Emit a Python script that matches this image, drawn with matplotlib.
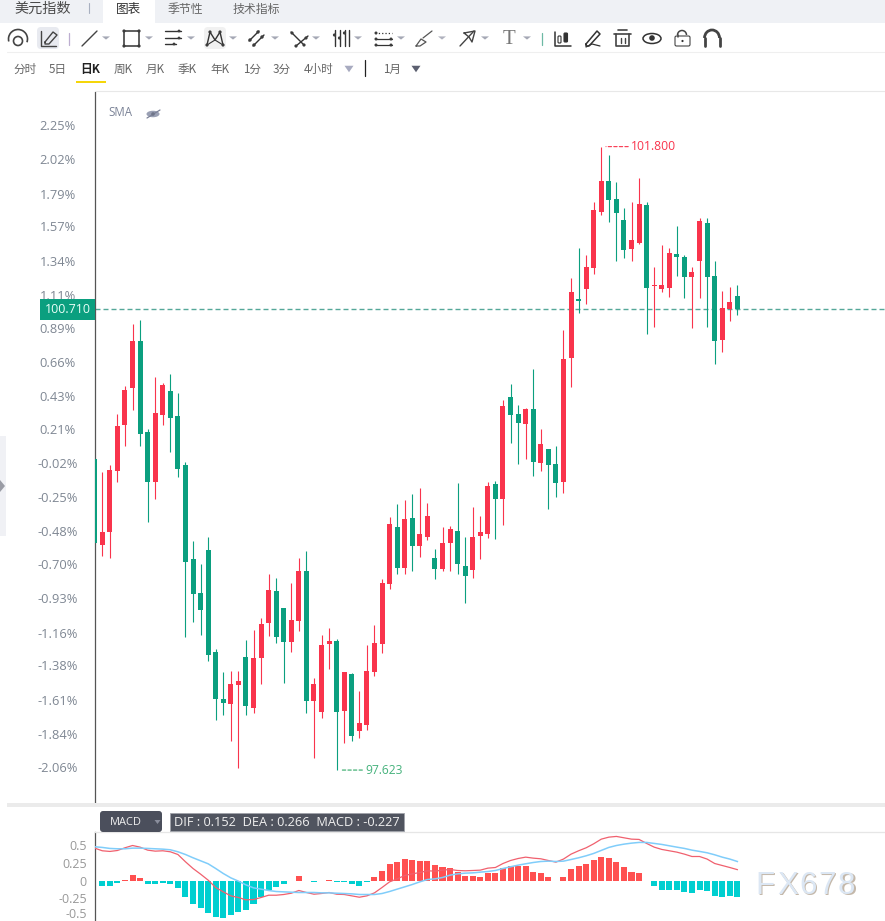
import numpy as np
import matplotlib
matplotlib.use('Agg')
import matplotlib.pyplot as plt
from matplotlib.patches import Rectangle, FancyBboxPatch, Circle, Arc, Polygon, Ellipse

# ---------- data ----------
opens = [99.707,99.130,99.218,99.626,99.935,100.182,100.497,99.888,99.553,100.002,100.162,99.995,99.666,99.037,98.809,99.097,98.414,98.099,98.065,98.193,98.380,98.038,98.373,98.608,98.822,98.708,98.481,98.621,98.956,98.085,98.012,98.467,98.487,98.018,98.266,97.884,97.925,98.280,98.467,98.869,99.251,98.976,99.311,99.124,99.184,99.043,98.970,99.144,99.224,98.990,98.963,99.191,99.204,99.539,99.439,100.122,100.008,99.941,100.042,99.680,99.774,99.673,99.553,100.383,100.779,100.846,100.986,101.362,101.569,101.449,101.308,101.114,101.154,101.409,100.866,100.846,100.852,101.080,101.060,100.926,101.033,101.288,100.933,100.504,100.712,100.799]
highs = [99.707,99.620,99.666,100.008,100.196,100.611,100.638,99.908,100.256,100.216,100.276,100.149,99.687,99.157,99.003,99.184,98.434,98.280,98.286,98.286,98.494,98.561,98.641,98.936,98.909,98.708,98.876,99.043,99.090,98.239,98.527,98.574,98.501,98.280,98.273,98.152,98.461,98.595,98.903,99.318,99.405,99.432,99.472,99.512,99.412,99.104,99.251,99.258,99.546,99.184,99.385,99.325,99.553,99.559,100.102,100.209,100.069,100.049,100.310,99.908,99.774,99.794,100.571,100.919,101.120,101.074,101.429,101.800,101.744,101.563,101.388,101.429,101.589,101.429,100.993,101.141,101.120,101.268,101.074,100.993,101.321,101.321,101.033,100.832,100.859,100.872]
lows = [99.144,99.057,99.043,99.553,99.794,100.035,99.794,99.285,99.439,99.935,99.754,99.586,98.514,98.615,98.527,98.353,97.958,97.992,97.817,97.636,97.992,98.005,98.199,98.521,98.474,98.206,98.414,98.554,98.005,97.703,97.971,98.300,97.623,97.804,97.817,97.837,97.891,98.253,98.407,98.836,98.936,98.936,98.956,99.050,99.164,98.903,98.956,98.956,98.936,98.742,98.909,99.037,99.177,99.171,99.265,99.814,99.673,99.707,99.593,99.626,99.372,99.452,99.479,100.189,100.685,100.745,100.946,101.342,101.295,101.033,101.053,101.033,101.147,100.544,100.591,100.826,100.792,100.933,100.785,100.584,100.785,100.591,100.343,100.424,100.631,100.672]
closes = [99.144,99.218,99.633,99.928,100.169,100.497,99.874,99.553,100.015,100.203,99.981,99.640,99.017,98.802,98.695,98.394,98.099,98.072,98.199,98.219,98.052,98.373,98.601,98.829,98.514,98.481,98.628,98.956,98.085,98.199,98.461,98.487,98.012,98.280,97.851,97.938,98.286,98.474,98.876,99.271,98.976,99.305,99.124,99.204,99.325,98.970,99.144,99.238,99.003,98.923,99.184,99.218,99.526,99.439,100.062,100.002,99.948,100.042,99.687,99.807,99.666,99.546,100.377,100.826,100.765,100.993,101.375,101.569,101.442,101.355,101.107,101.174,101.415,100.852,100.872,100.872,101.087,101.060,100.926,100.960,101.301,100.926,100.497,100.718,100.759,100.710]
pct_ticks = [2.25,2.02,1.79,1.57,1.34,1.11,0.89,0.66,0.43,0.21,-0.02,-0.25,-0.48,-0.70,-0.93,-1.16,-1.38,-1.61,-1.84,-2.06]
base_price = 99.70
last_price = 100.710
high_price = 101.800
low_price = 97.623

macd_hist = [-0.01,-0.08,-0.075,-0.035,0.012,0.075,0.03,-0.05,-0.05,-0.03,-0.05,-0.107,-0.234,-0.327,-0.388,-0.449,-0.509,-0.528,-0.486,-0.444,-0.407,-0.322,-0.224,-0.135,-0.084,-0.047,-0.01,0.06,-0.007,-0.02,-0.005,0.012,-0.02,-0.015,-0.055,-0.07,-0.015,0.045,0.135,0.229,0.257,0.3,0.285,0.27,0.27,0.215,0.187,0.173,0.117,0.07,0.07,0.056,0.1,0.1,0.173,0.2,0.2,0.2,0.126,0.1,0.047,-0.005,0.056,0.159,0.2,0.229,0.285,0.327,0.313,0.257,0.187,0.117,0.1,-0.007,-0.08,-0.126,-0.126,-0.135,-0.159,-0.173,-0.126,-0.15,-0.22,-0.234,-0.22,-0.227]
dif = [.453,.416,.407,.42,.458,.49,.467,.425,.411,.416,.402,.364,.262,.168,.089,.005,-.098,-.159,-.215,-.238,-.271,-.266,-.238,-.206,-.206,-.196,-.178,-.14,-.168,-.192,-.182,-.168,-.192,-.196,-.215,-.234,-.215,-.173,-.098,-.019,.023,.07,.093,.112,.136,.131,.145,.154,.14,.136,.14,.145,.173,.182,.238,.28,.308,.327,.313,.304,.28,.257,.3,.369,.416,.458,.514,.579,.607,.617,.598,.579,.575,.519,.467,.435,.416,.397,.369,.336,.336,.3,.238,.21,.182,.152]
dea = [.472,.463,.449,.444,.444,.453,.453,.449,.444,.439,.43,.402,.364,.318,.276,.234,.168,.098,.037,-.009,-.061,-.103,-.121,-.14,-.154,-.159,-.164,-.168,-.168,-.168,-.173,-.173,-.178,-.182,-.187,-.196,-.196,-.196,-.182,-.154,-.121,-.089,-.056,-.019,.014,.023,.042,.075,.093,.103,.107,.117,.126,.14,.168,.192,.215,.234,.252,.266,.271,.266,.271,.294,.318,.346,.379,.421,.463,.49,.509,.523,.533,.533,.519,.505,.486,.467,.449,.425,.407,.388,.36,.327,.3,.266]
macd_ticks = [0.5,0.25,0,-0.25,-0.5]
macd_tick_labels = ['0.5','0.25','0','-0.25','-0.5']
periods = ['分时','5日','日K','周K','月K','季K','年K','1分','3分','4小时']

# ---------- styles ----------
RED, GREEN = '#f9344c', '#0b9f7f'
HRED, HCYAN = '#ff5050', '#00cfd0'
CJK = ['Noto Sans CJK SC', 'DejaVu Sans']
W, H = 885, 921
fig = plt.figure(figsize=(W/100, H/100), dpi=100, facecolor='white')
def axbox(x0, y0, x1, y1):
    return [x0/W, 1-y1/H, (x1-x0)/W, (y1-y0)/H]

# ---------- main chart ----------
ax = fig.add_axes(axbox(94.5, 92, 885, 802))
idx = np.arange(len(opens))
O, Hi, Lo, C = map(np.array, (opens, highs, lows, closes))
up = C >= O
cols = np.where(up, RED, GREEN)
wicks = ax.vlines(idx, Lo, Hi, colors=cols, linewidth=0.8, zorder=2)
wicks.set_snap(True)
ax.bar(idx, np.maximum(np.abs(C-O), 0.006), bottom=np.minimum(O, C), width=0.66, color=cols, linewidth=0, zorder=3)
ax.set_xlim(-0.032, 104.53)
ax.set_ylim(97.409, 102.166)
ax.axhline(last_price, color='#55a899', lw=1.0, ls=(0, (3.6, 2.16)), zorder=1)
for s in ('top', 'right', 'bottom'):
    ax.spines[s].set_visible(False)
ax.spines['left'].set_color('#555555')
ax.spines['left'].set_linewidth(0.9)
ax.set_xticks([])
ax.set_yticks([base_price*(1+p/100) for p in pct_ticks])
ax.set_yticklabels(['%.2f%%' % p for p in pct_ticks], family='Open Sans', fontsize=9.3, color='#7f8793', ha='center')
ax.tick_params(axis='y', length=0, pad=26.6)
hi_i = int(np.argmax(Hi)); lo_i = int(np.argmin(Lo))
ax.annotate('%.3f' % high_price, xy=(hi_i, high_price), xytext=(21.4, 0), textcoords='offset points',
            va='center', ha='left', family='Open Sans', fontsize=8.7, color=RED,
            arrowprops=dict(arrowstyle='-', color=RED, lw=0.8, ls=(0, (3, 2)), shrinkA=0, shrinkB=3.4, relpos=(0, 0.5)))
ax.annotate('%.3f' % low_price, xy=(lo_i, low_price), xytext=(20.5, 0), textcoords='offset points',
            va='center', ha='left', family='Open Sans', fontsize=8.7, color='#45b27c',
            arrowprops=dict(arrowstyle='-', color='#2fa866', lw=0.8, ls=(0, (3, 2)), shrinkA=0, shrinkB=3.4, relpos=(0, 0.5)))

# ---------- MACD panel ----------
ax2 = fig.add_axes(axbox(94.5, 832, 885, 921))
h = np.array(macd_hist)
ax2.bar(idx, h, width=0.8, color=np.where(h >= 0, HRED, HCYAN), linewidth=0, zorder=2)
ax2.plot(idx, dif, color='#f0606e', lw=0.9, zorder=3)
ax2.plot(idx, dea, color='#80cdfa', lw=1.1, zorder=3)
ax2.set_xlim(-0.032, 104.53)
ax2.set_ylim(-0.567, 0.679)
for s in ('right', 'bottom'):
    ax2.spines[s].set_visible(False)
ax2.spines['top'].set_color('#e6e6e6')
ax2.spines['top'].set_linewidth(0.9)
ax2.spines['left'].set_color('#555555')
ax2.spines['left'].set_linewidth(0.9)
ax2.set_xticks([])
ax2.set_yticks(macd_ticks)
ax2.set_yticklabels(macd_tick_labels[:-1] + [''], family='Open Sans', fontsize=8.9, color='#989898')
ax2.tick_params(axis='y', length=0, pad=5.6)
# the lowest label sits against the picture's edge, so it is lifted a little from its tick
ax2.annotate(macd_tick_labels[-1], xy=(0, macd_ticks[-1]), xycoords=ax2.get_yaxis_transform(),
             xytext=(-5.6, -1.2), textcoords='offset points', ha='right', va='baseline',
             family='Open Sans', fontsize=8.9, color='#989898', annotation_clip=False)

# ---------- interface overlay, in pixels ----------
ui = fig.add_axes([0, 0, 1, 1], zorder=5)
ui.set_xlim(0, W); ui.set_ylim(H, 0); ui.axis('off'); ui.patch.set_alpha(0)
def rect(x0, y0, x1, y1, c, z=1):
    ui.add_patch(Rectangle((x0, y0), x1-x0, y1-y0, fc=c, ec='none', zorder=z))
def rrect(x0, y0, x1, y1, c, r=3, ec='none', z=1):
    ui.add_patch(FancyBboxPatch((x0+r, y0+r), x1-x0-2*r, y1-y0-2*r, boxstyle='round,pad=%g,rounding_size=%g' % (r, r),
                                fc=c, ec=ec, lw=0.8, zorder=z))
def L(pts, c='#3c3c3c', lw=1.0, z=3, **k):
    xs, ys = zip(*pts)
    ui.plot(xs, ys, color=c, lw=lw, zorder=z, solid_capstyle='round', **k)
def dot(x, y, r=1.8, c='#3c3c3c'):
    ui.add_patch(Circle((x, y), r, fc=c, ec='none', zorder=4))
def tri(x, y=38, c='#a5a8b5', w=4, h=3.2):
    ui.add_patch(Polygon([(x-w, y-h/2), (x+w, y-h/2), (x, y+h/2)], fc=c, ec='none', zorder=3))
def T(x, y, s, size=8.6, c='#555555', ha='left', fam=CJK, **k):
    ui.text(x, y, s, fontsize=size, color=c, ha=ha, va='center', family=fam, zorder=6, **k)

# tab row
rect(0, 0, W, 23, '#eff1f5')
rect(103, 0, 155, 23, 'white')
T(14, 9, '美元指数', 10.2, '#4a4a4a')
L([(88.5, 3), (88.5, 13)], '#a8b0c0', 0.8)
T(116, 9, '图表', 9.1, '#333333')
T(168, 9, '季节性', 8.6, '#666666')
T(233, 9, '技术指标', 8.6, '#666666')
# separators
L([(7, 52.5), (W, 52.5)], '#efefef', 0.8, z=1)
L([(95, 91.5), (W, 91.5)], '#e8e8e8', 0.8, z=1)
rect(7, 803, W, 807, '#ebebeb')

# toolbar icons
ui.add_patch(Arc((18, 39), 19, 19, theta1=165, theta2=20, ec='#444444', lw=1.2, zorder=3))
ui.add_patch(Circle((18, 41), 4.5, fc='none', ec='#444444', lw=1.2, zorder=3))
rrect(37, 27, 59, 49, '#e8eaf0', 4)
L([(41, 31), (41, 46), (56, 46)], '#444444', 1.0)
L([(45, 42), (53, 32), (57, 35), (49, 44), (45, 44), (45, 42)], '#444444', 1.0)
L([(68.5, 33), (68.5, 45)], '#bdaed0', 0.9)
L([(82, 46), (97, 31)], '#444444', 1.0); tri(106)
L([(124, 31), (139, 31), (139, 46), (124, 46), (124, 31)], '#333333', 1.1)
for p in [(124, 31), (139, 31), (139, 46), (124, 46)]: dot(*p, 1.6)
tri(149)
for yy, x1 in [(31, 181), (38, 181), (44, 176)]:
    L([(165, yy), (x1, yy)], '#333333', 1.0); dot(x1-2, yy, 1.4)
tri(191)
rrect(204, 27, 226, 49, '#f1f1f1', 4)
L([(207, 45), (210, 32), (215, 40), (220, 32), (223, 45)], '#333333', 1.0)
L([(207, 45), (215, 40), (223, 45)], '#333333', 0.8)
for p in [(207, 45), (210, 32), (220, 32), (223, 45)]: dot(*p, 1.6)
tri(233)
L([(249, 41), (259, 31)], '#333333', 1.0); L([(253, 46), (264, 35)], '#333333', 1.0)
for p in [(250, 40), (258, 32), (254, 45), (262, 37)]: dot(*p, 1.7)
tri(275)
L([(291, 32), (304, 45)], '#333333', 1.0); L([(308, 36), (296, 46)], '#333333', 1.0)
for p in [(292, 33), (304, 45), (296, 46), (306, 38)]: dot(*p, 1.6)
tri(316)
for xx, d in [(334.5, 35), (339.5, 38), (344.5, 33), (348.5, None)]:
    L([(xx, 30), (xx, 46)], '#333333', 1.0)
    if d: dot(xx, d, 1.6)
tri(358)
L([(375, 33), (392, 33)], '#333333', 0.9, ls=':'); L([(375, 39), (392, 39)], '#333333', 0.9); L([(375, 45), (392, 45)], '#333333', 0.9)
for p in [(376, 33), (376, 39), (376, 45), (391, 39), (391, 45)]: dot(*p, 1.5)
tri(401)
L([(416, 46), (421, 39), (426, 42), (420, 46), (416, 46)], '#555555', 0.9); L([(423, 38), (432, 31)], '#555555', 0.9)
tri(442, c='#b0b2be')
L([(460, 46), (474, 31)], '#444444', 1.0); L([(464, 33), (475, 31), (472, 42), (469, 37), (464, 33)], '#444444', 1.0)
tri(485)
T(509, 39.5, 'T', 15, '#777777', ha='center', fam='Liberation Serif')
tri(527)
L([(541.5, 33), (541.5, 45)], '#6db9a5', 0.9)
L([(554.5, 32), (554.5, 46), (571, 46)], '#333333', 1.1)
rrect(558, 36, 561, 43, 'white', 1, '#333333', 3); rrect(564, 33, 567.5, 42, '#333333', 1, '#333333', 3)
L([(586, 44), (597, 31), (600, 34), (589, 46), (586, 46), (586, 44)], '#333333', 1.1)
L([(586, 47), (592, 44), (600, 46)], '#333333', 0.9)
L([(614, 34), (631, 34)], '#444444', 1.2); L([(618, 30.5), (627, 30.5)], '#444444', 1.2)
L([(616, 34), (616, 46), (629, 46), (629, 34)], '#444444', 1.2)
L([(620.5, 38), (620.5, 43)], '#444444', 1.0); L([(625, 38), (625, 43)], '#444444', 1.0)
ui.add_patch(Ellipse((652, 38.5), 18, 10, fc='none', ec='#333333', lw=1.1, zorder=3)); dot(652, 38, 2.8, '#333333')
rrect(675, 36, 690, 46, 'white', 1.5, '#444444', 3); dot(682.5, 41, 1.1, '#333333')
ui.add_patch(Arc((682, 35), 9, 9, theta1=180, theta2=360, ec='#444444', lw=1.1, zorder=3))
L([(677.5, 35), (677.5, 37)], '#444444', 1.1)
ui.add_patch(Arc((712, 38), 15, 16, theta1=180, theta2=360, ec='#444444', lw=2, zorder=3))
L([(704.5, 38), (704.5, 46)], '#444444', 2); L([(719.5, 38), (719.5, 46)], '#444444', 2)

# period row
px = [13, 49, 80, 114, 146, 178, 210, 243, 273, 304]
for x, s in zip(px, periods):
    if s == '日K':
        T(x, 69, s, 8.5, '#222222', fontweight='bold')
    else:
        T(x, 69, s, 8.4, '#666666')
tri(349, 69, '#a8abc0', 4.5, 6.5)
L([(364.5, 60), (364.5, 76)], '#222222', 0.9)
T(383, 69, '1月', 8.4, '#666666')
tri(416, 69, '#5c6070', 4.5, 6.5)
rect(76, 81, 106, 83, '#f5d60a')

# SMA legend
T(108, 113, 'SMA', 8.3, '#7b8397', fam='Open Sans')
ui.add_patch(Ellipse((153, 114), 13, 6.5, fc='#9aa0b4', ec='none', zorder=3))
dot(153, 114, 1.8, '#6f7589')
L([(147, 118), (160, 110)], '#7b8197', 0.9)

# left handle
rect(0, 436, 6, 536, '#f0f1f5')
ui.add_patch(Polygon([(0, 480), (5, 486), (0, 492)], fc='#9a9ca5', ec='none', zorder=3))

# price tag
rect(40, 299, 95, 320, GREEN, z=4)
T(67.5, 309.5, '%.3f' % last_price, 8.9, '#eafff8', ha='center', fam='Open Sans')

# MACD header
rrect(100, 811, 162, 832, '#4b4f5c', 3)
T(110, 822, 'MACD', 7.9, '#f0f0f0', fam='Open Sans')
ui.add_patch(Polygon([(154.5, 820), (160.5, 820), (157.5, 824)], fc='#8a8e9c', ec='none', zorder=3))
ui.add_patch(Rectangle((169.5, 812.5), 234, 18, fc='#50545f', ec='#a0a3aa', lw=0.6, zorder=2))
T(174, 822, 'DIF : %.3f  DEA : %.3f  MACD : %.3f' % (dif[-1], dea[-1], macd_hist[-1]), 9.2, '#f0f0f0', fam='Open Sans')

# watermark
for x, ch in zip([755.5, 777.5, 799, 818.5, 838], 'FX678'):
    T(x+1.2, 886.6, ch, 22.5, '#c4b8aa', fam='Liberation Sans')
    T(x, 885.5, ch, 22.5, '#dce7f4', fam='Liberation Sans')

fig.savefig('out.png', dpi=100, facecolor='white')
